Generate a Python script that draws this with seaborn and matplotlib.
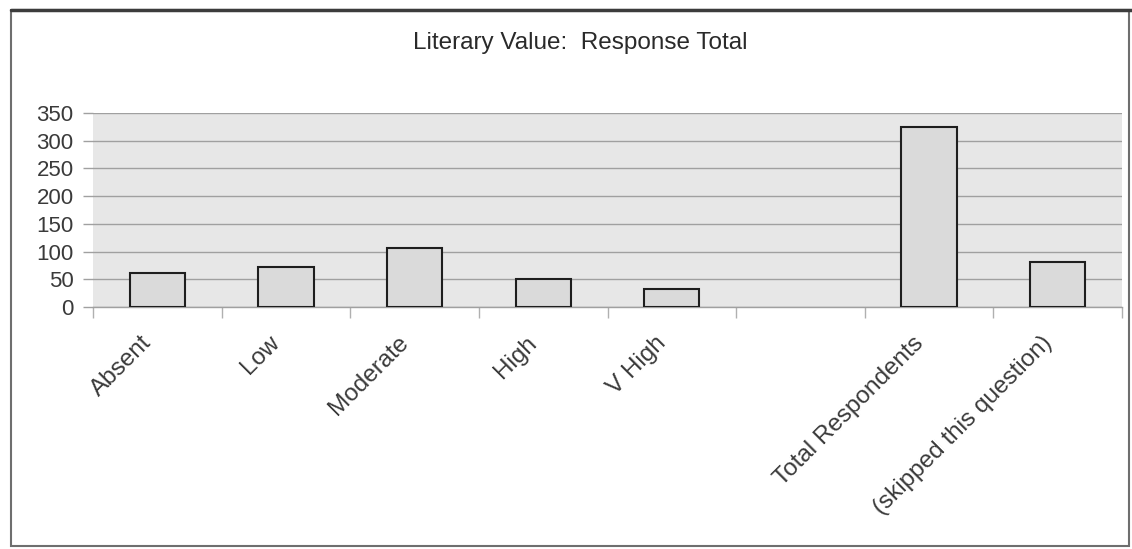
import matplotlib
matplotlib.use("Agg")
import matplotlib.pyplot as plt
from matplotlib.patches import Rectangle
from matplotlib.ticker import FixedLocator
from matplotlib.transforms import ScaledTranslation
import numpy as np
import pandas as pd
import seaborn as sns

# Survey answers for "Literary Value"
categories = ["Absent", "Low", "Moderate", "High", "V High", "",
              "Total Respondents", "(skipped this question)"]
responses = [62, 73, 106, 50, 33, np.nan, 324, 82]
y_ticks = [0, 50, 100, 150, 200, 250, 300, 350]

sns.set_theme(style="white")
plt.rcParams["font.family"] = ["Liberation Sans", "DejaVu Sans"]

W, H = 1132, 549
fig = plt.figure(figsize=(W / 100, H / 100), dpi=100)
fig.patch.set_facecolor("white")

left, right, top, bottom = 93, 1122, 113, 307
ax = fig.add_axes([left / W, 1 - bottom / H, (right - left) / W, (bottom - top) / H])
ax.set_facecolor("#e7e7e7")

df = pd.DataFrame({"category": [c if c else " " for c in categories],
                   "responses": responses})
order = list(df["category"])
sns.barplot(data=df, x="category", y="responses", order=order, ax=ax,
            color="#dadada", saturation=1, width=0.43,
            edgecolor="#1e1e1e", linewidth=1.5, zorder=3)

ax.set_ylim(0, 350)
ax.set_xlim(-0.5, len(categories) - 0.5)
ax.set_yticks(y_ticks)
ax.set_yticklabels([str(v) for v in y_ticks], fontsize=16, color="#3a3a3a")
ax.yaxis.grid(True, color="#a0a0a0", linewidth=1.0, zorder=1)
ax.set_axisbelow(True)
ax.tick_params(axis="y", length=7, width=1.0, color="#a0a0a0", pad=7, left=True)

# category labels at centres, tick marks at category boundaries
ax.set_xticks(range(len(categories)))
ax.set_xticklabels(categories, rotation=45, ha="right", rotation_mode="anchor",
                   fontsize=17.5, color="#3a3a3a")
ax.tick_params(axis="x", which="major", length=0, pad=18)
shift = ScaledTranslation(-17 / 100, 0, fig.dpi_scale_trans)
for lbl in ax.get_xticklabels():
    lbl.set_transform(lbl.get_transform() + shift)
ax.xaxis.set_minor_locator(FixedLocator(np.arange(-0.5, len(categories), 1.0)))
ax.tick_params(axis="x", which="minor", length=8, width=1.0, color="#b0b0b0",
               bottom=True)

ax.set_xlabel("")
ax.set_ylabel("")
for side in ["top", "right", "left"]:
    ax.spines[side].set_visible(False)
ax.spines["bottom"].set_color("#a0a0a0")
ax.spines["bottom"].set_linewidth(1.0)

fig.text(580 / W, 1 - 43 / H, "Literary Value:  Response Total",
         ha="center", va="center", fontsize=17.5, color="#2a2a2a")

# chart frame
fig.patches.append(Rectangle((11 / W, 1 - 546 / H), (1129 - 11) / W, (546 - 10) / H,
                             transform=fig.transFigure, fill=False,
                             edgecolor="#6e6e6e", linewidth=1.5))
fig.lines.append(plt.Line2D([11 / W, 1.0], [1 - 10 / H, 1 - 10 / H],
                            transform=fig.transFigure, color="#3c3c3c", linewidth=2.5))

fig.savefig("out.png", dpi=100)
